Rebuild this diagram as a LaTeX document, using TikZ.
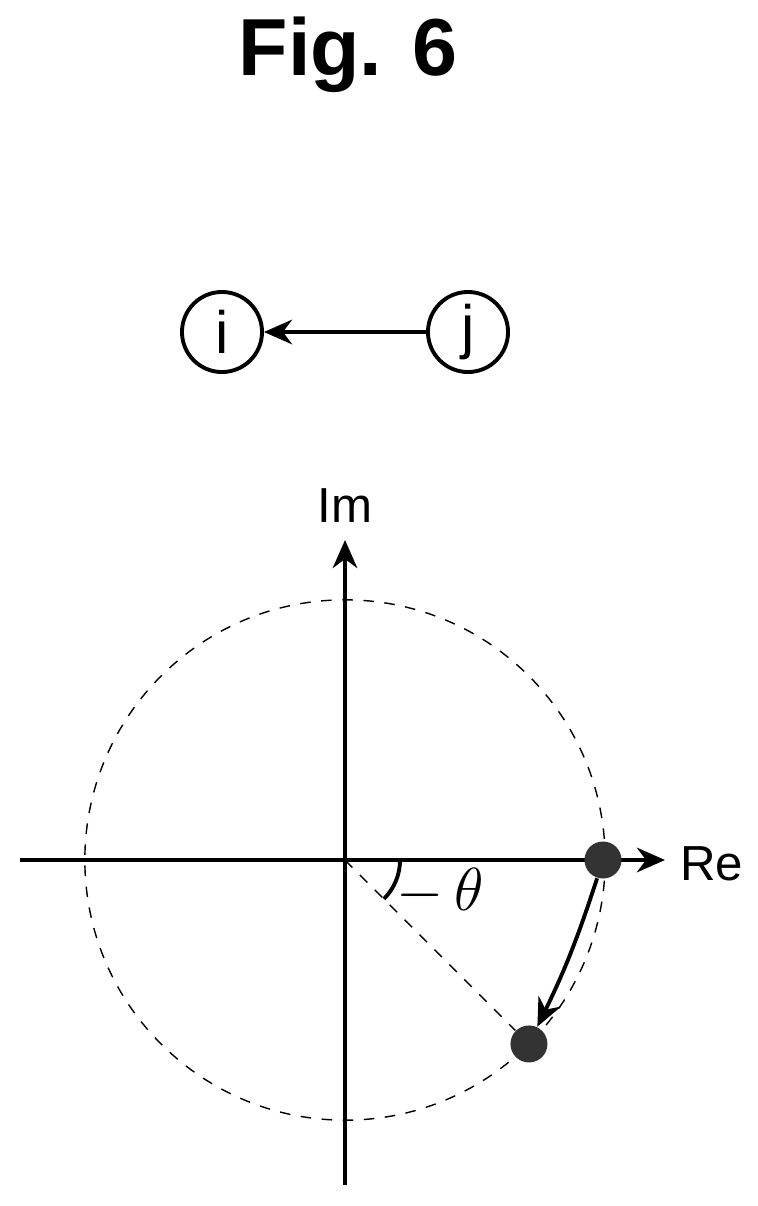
\documentclass[tikz,border=0pt]{standalone}
\usepackage{fontspec}
\setmainfont{Liberation Sans}
\usetikzlibrary{arrows.meta,calc}

\begin{document}
\begin{tikzpicture}[x=0.01cm,y=-0.01cm,
    vertex/.style ={circle, draw, line width=1.1pt, minimum size=0.8cm, inner sep=0pt, font=\fontsize{17}{17}\selectfont},
    point/.style ={circle, fill=black!80, minimum size=0.37cm, inner sep=0pt},
    axis/.style ={line width=1.1pt, -{Stealth[length=8pt,width=7pt]}}]
   \useasboundingbox (0,0) rectangle (757,1206);
   \node[font=\fontsize{23}{23}\selectfont\bfseries] (title) at (348,55) {Fig. 6};

   \node[vertex] (I) at (222,332) {i};
   \node[vertex] (J) at (468,332) {j};
   \draw[axis] (J) to (I);

   \coordinate (O) at (345,860);
   \coordinate (W) at (20,860);
   \coordinate (E) at (665,860);
   \coordinate (S) at (345,1185);
   \coordinate (N) at (345,540);
   \draw[axis] (W) to (E);
   \draw[axis] (S) to (N);
   \node[font=\fontsize{14}{14}\selectfont, anchor=south] (im) at (345,535) {Im};
   \node[font=\fontsize{14}{14}\selectfont, anchor=west] (re) at (668,864) {Re};

   \draw[dashed] (O) circle (2.6cm);
   \node[point] (P) at (603,860) {};
   \node[point] (Q) at ($(O)+(-45:2.6cm)$) {};
   \draw[dashed] (O) to (Q);
   \draw[line width=1.1pt] ([shift={(0:0.55cm)}]O) arc[start angle=0, end angle=-45, radius=0.55cm];
   \node[font=\fontsize{17}{17}\selectfont] (theta) at (440,892) {$-\,\theta$};
   \draw[axis] (P) to[bend left=4] (Q);
 \end{tikzpicture}
\end{document}
